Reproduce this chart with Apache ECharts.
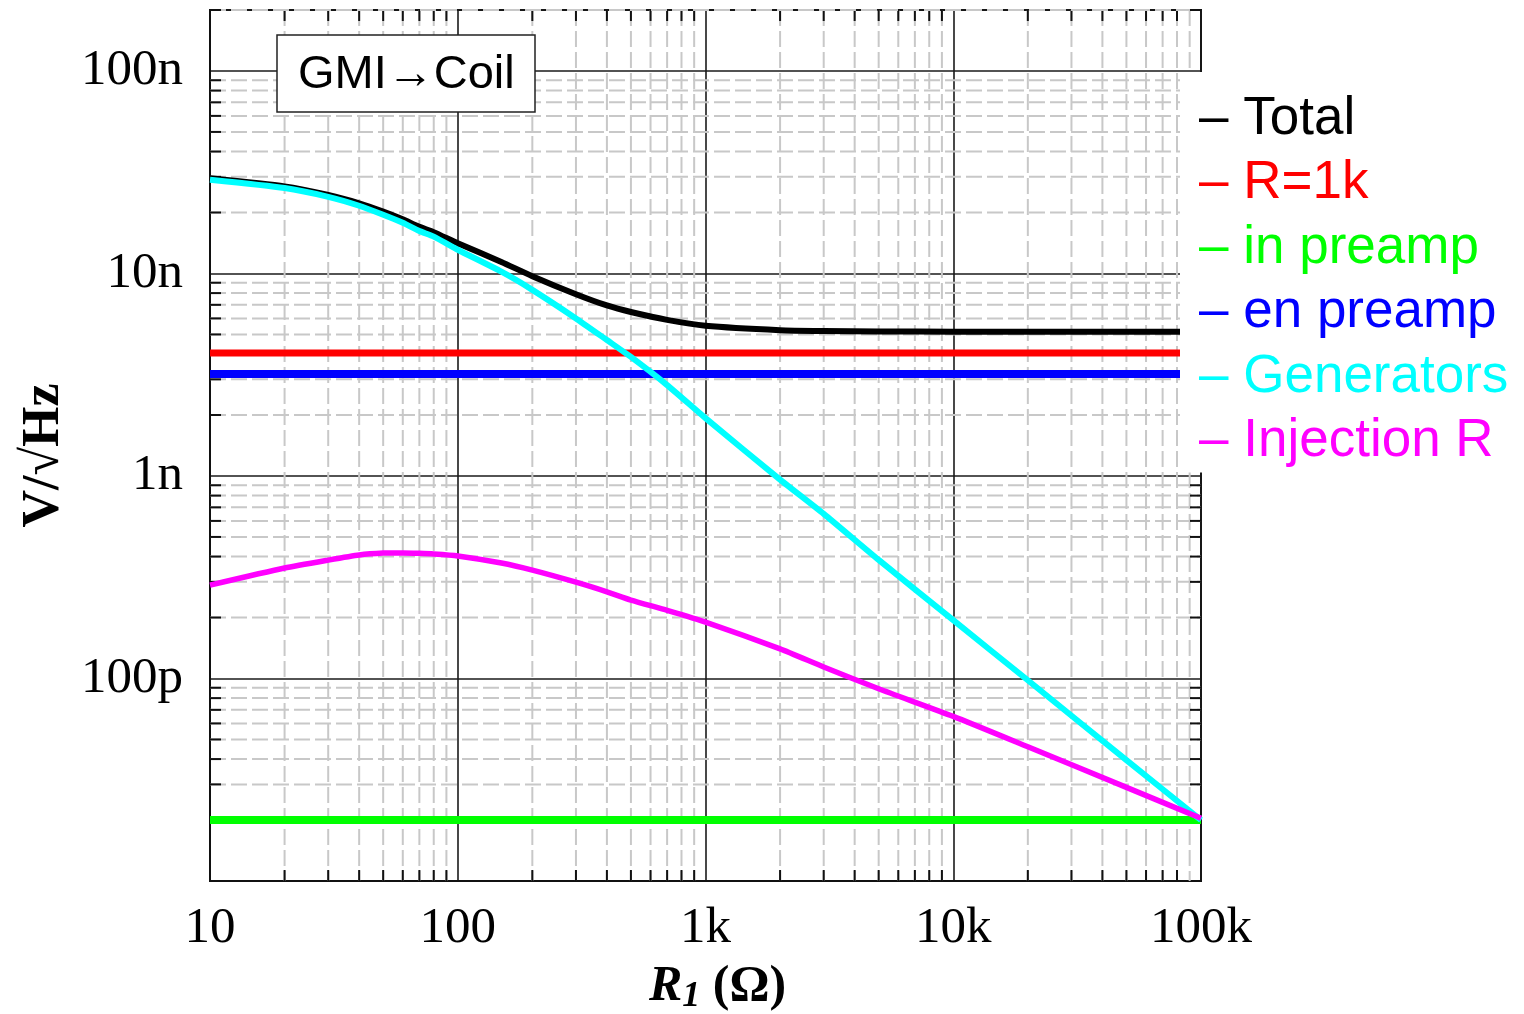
<!DOCTYPE html>
<html>
<head>
<meta charset="utf-8">
<script src="https://cdn.jsdelivr.net/npm/echarts@6/dist/echarts.min.js"></script>
<style>html,body{margin:0;padding:0;background:#fff}#c{width:1524px;height:1014px}</style>
</head>
<body>
<div id="c"></div>
<script>
// ---- data ----
const xTickValues = [10, 100, 1000, 10000, 100000];
const xTickLabels = ['10', '100', '1k', '10k', '100k'];
const yTickValues = [1e-10, 1e-9, 1e-8, 1e-7];
const yTickLabels = ['100p', '1n', '10n', '100n'];

const seriesNames = ['Total', 'R=1k', 'in preamp', 'en preamp', 'Generators', 'Injection R'];
const seriesColors = ['#000000', '#ff0000', '#00ff00', '#0000ff', '#00ffff', '#ff00ff'];

const rPoints = [10, 20, 30, 40, 50, 60, 70, 80, 100, 150, 200, 300, 400, 500, 700, 1000, 2000, 3000, 5000, 10000, 20000, 50000, 100000];
const totalVals = [2.95e-8, 2.69e-8, 2.44e-8, 2.22e-8, 2.02e-8, 1.85e-8, 1.70e-8, 1.60e-8, 1.41e-8, 1.14e-8, 9.7e-9, 7.9e-9, 6.95e-9, 6.45e-9, 5.9e-9, 5.52e-9, 5.25e-9, 5.2e-9, 5.17e-9, 5.16e-9, 5.16e-9, 5.16e-9, 5.16e-9];
const generatorVals = [2.9e-8, 2.64e-8, 2.39e-8, 2.16e-8, 1.95e-8, 1.78e-8, 1.62e-8, 1.52e-8, 1.31e-8, 1.02e-8, 8.3e-9, 6.0e-9, 4.69e-9, 3.87e-9, 2.81e-9, 1.93e-9, 9.6e-10, 6.5e-10, 3.85e-10, 1.94e-10, 9.8e-11, 3.95e-11, 2.0e-11];
const injectionVals = [2.89e-10, 3.51e-10, 3.84e-10, 4.07e-10, 4.16e-10, 4.17e-10, 4.15e-10, 4.12e-10, 4.03e-10, 3.72e-10, 3.43e-10, 2.99e-10, 2.68e-10, 2.44e-10, 2.17e-10, 1.9e-10, 1.4e-10, 1.14e-10, 8.9e-11, 6.5e-11, 4.6e-11, 2.9e-11, 2.04e-11];
const flatR = [10, 100000];
const r1kVals = [4.05e-9, 4.05e-9];
const inPreampVals = [2.0e-11, 2.0e-11];
const enPreampVals = [3.19e-9, 3.19e-9];

// minor grid positions (2..9 within each decade)
const xMinor = [];
for (let d = 10; d < 100000; d *= 10) for (let k = 2; k <= 9; k++) xMinor.push(k * d);
const yMinor = [];
for (let d = 1e-11; d < 1e-7; d *= 10) for (let k = 2; k <= 9; k++) yMinor.push(k * d);

function pairs(xs, ys) { return xs.map((x, i) => [x, ys[i]]); }
function labelFor(vals, labels, v) {
  const lv = Math.round(Math.log10(v) * 1000) / 1000;
  for (let i = 0; i < vals.length; i++) {
    if (Math.abs(Math.log10(vals[i]) - lv) < 1e-3) return labels[i];
  }
  return '';
}

const chart = echarts.init(document.getElementById('c'), null, { renderer: 'canvas' });

const minorStyle = { stroke: '#c8c8c8', lineWidth: 2, lineDash: [16, 5] };
const tickStyle = { stroke: '#111', lineWidth: 2 };
const TL = 11;

const lineSeries = [
  { data: pairs(rPoints, totalVals), width: 6 },
  { data: pairs(flatR, r1kVals), width: 7 },
  { data: pairs(flatR, inPreampVals), width: 8 },
  { data: pairs(flatR, enPreampVals), width: 8 },
  { data: pairs(rPoints, generatorVals), width: 6 },
  { data: pairs(rPoints, injectionVals), width: 5.5 }
].map((s, i) => ({
  name: seriesNames[i],
  type: 'line',
  data: s.data,
  showSymbol: false,
  symbol: 'none',
  smooth: 0.2,
  color: seriesColors[i],
  lineStyle: { color: seriesColors[i], width: s.width, cap: 'butt', join: 'round' },
  z: 3 + i * 0.01,
  silent: true
}));

const option = {
  animation: false,
  backgroundColor: '#fff',
  title: {
    text: 'GMI\u2192Coil',
    left: 277,
    top: 35,
    padding: [13, 21, 9, 21],
    backgroundColor: '#fff',
    borderColor: '#222',
    borderWidth: 1.5,
    textStyle: { fontFamily: 'Liberation Sans', fontSize: 47, fontWeight: 'normal', color: '#000', lineHeight: 55 },
    z: 10
  },
  legend: {
    orient: 'vertical',
    left: 1180,
    top: 72,
    padding: [17, 40, 1, 14],
    backgroundColor: '#fff',
    itemWidth: 0,
    itemHeight: 0,
    itemGap: 4.5,
    selectedMode: false,
    formatter: '\u2013 {name}',
    textStyle: { fontFamily: 'Liberation Sans', fontSize: 53, lineHeight: 60 },
    data: seriesNames.map((n, i) => ({ name: n, icon: 'rect', textStyle: { color: seriesColors[i], fontFamily: 'Liberation Sans', fontSize: 53, lineHeight: 60 } })),
    z: 8
  },
  grid: {
    left: 210, right: 323, top: 10, bottom: 133,
    containLabel: false,
    outerBoundsMode: 'none',
    show: true, borderColor: '#111', borderWidth: 2, backgroundColor: 'transparent'
  },
  xAxis: {
    type: 'log', logBase: 10, min: 10, max: 100000,
    name: '{i|R}{s|1} {b|(\u03A9)}',
    nameLocation: 'middle',
    nameGap: 78,
    nameTextStyle: {
      fontFamily: 'Liberation Serif', fontSize: 50, fontWeight: 'bold', color: '#000', lineHeight: 56,
      padding: [0, 0, 0, 24],
      rich: {
        i: { fontFamily: 'Liberation Serif', fontSize: 50, fontWeight: 'bold', fontStyle: 'italic', lineHeight: 56, color: '#000' },
        s: { fontFamily: 'Liberation Serif', fontSize: 36, fontWeight: 'bold', fontStyle: 'italic', lineHeight: 36, verticalAlign: 'bottom', color: '#000' },
        b: { fontFamily: 'Liberation Serif', fontSize: 50, fontWeight: 'bold', lineHeight: 56, color: '#000' }
      }
    },
    axisLine: { show: true, lineStyle: { color: '#111', width: 2 } },
    axisTick: { show: false },
    axisLabel: {
      margin: 22,
      fontFamily: 'Liberation Serif', fontSize: 51, color: '#000',
      formatter: v => labelFor(xTickValues, xTickLabels, v)
    },
    splitLine: { show: true, lineStyle: { color: '#1a1a1a', width: 1.6 } }
  },
  yAxis: {
    type: 'log', logBase: 10, min: 1e-11, max: 2e-7,
    name: 'V/\u221AHz',
    nameLocation: 'middle',
    nameGap: 135,
    nameRotate: 90,
    nameTextStyle: { fontFamily: 'Liberation Serif', fontSize: 52, fontWeight: 'bold', color: '#000', padding: [0, 20, 0, 0] },
    axisLine: { show: true, lineStyle: { color: '#111', width: 2 } },
    axisTick: { show: false },
    axisLabel: {
      margin: 27,
      fontFamily: 'Liberation Serif', fontSize: 51, color: '#000',
      formatter: v => labelFor(yTickValues, yTickLabels, v)
    },
    splitLine: { show: true, lineStyle: { color: '#1a1a1a', width: 1.6 } }
  },
  series: [
    {
      type: 'custom',
      name: 'xminor',
      silent: true,
      z: 1,
      data: xMinor.map(v => [v, 1e-9]),
      renderItem: function (params, api) {
        const v = api.value(0);
        const x = api.coord([v, 1e-9])[0];
        const cs = params.coordSys;
        const children = [
          { type: 'line', shape: { x1: x, y1: cs.y, x2: x, y2: cs.y + cs.height }, style: minorStyle }
        ];
        if (v < 85000) {
          children.push({ type: 'line', shape: { x1: x, y1: cs.y + cs.height, x2: x, y2: cs.y + cs.height - TL }, style: tickStyle });
          children.push({ type: 'line', shape: { x1: x, y1: cs.y, x2: x, y2: cs.y + TL }, style: tickStyle });
        }
        return { type: 'group', children: children };
      }
    },
    {
      type: 'custom',
      name: 'yminor',
      silent: true,
      z: 1,
      data: yMinor.map(v => [100, v]),
      renderItem: function (params, api) {
        const v = api.value(1);
        const y = api.coord([100, v])[1];
        const cs = params.coordSys;
        return {
          type: 'group', children: [
            { type: 'line', shape: { x1: cs.x, y1: y, x2: cs.x + cs.width, y2: y }, style: minorStyle },
            { type: 'line', shape: { x1: cs.x, y1: y, x2: cs.x + TL, y2: y }, style: tickStyle },
            { type: 'line', shape: { x1: cs.x + cs.width, y1: y, x2: cs.x + cs.width - TL, y2: y }, style: tickStyle }
          ]
        };
      }
    }
  ].concat(lineSeries)
};
chart.setOption(option);
</script>
</body>
</html>
